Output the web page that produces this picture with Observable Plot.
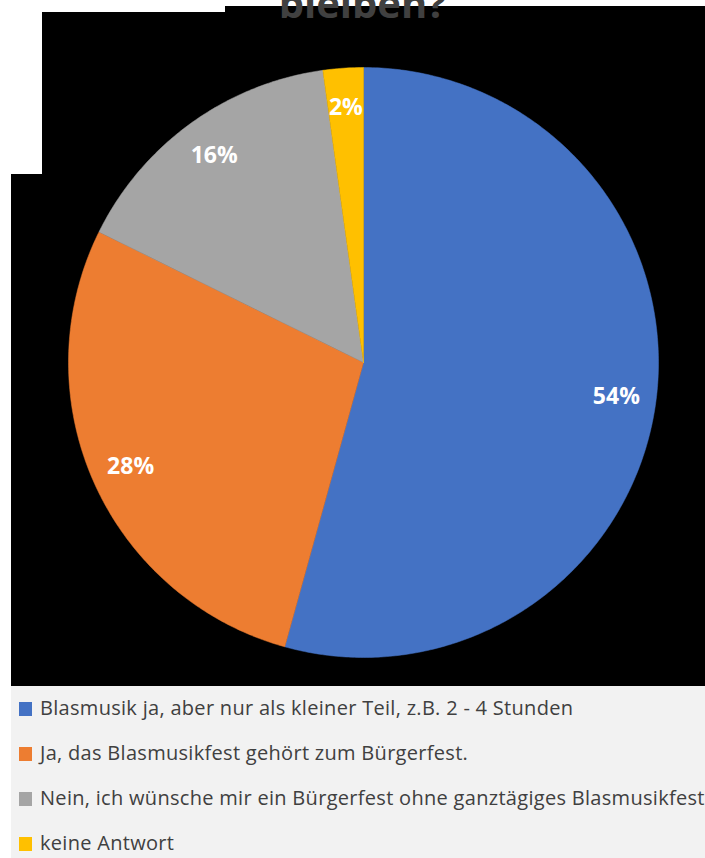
<!DOCTYPE html>
<html>
<head>
<meta charset="utf-8">
<script src="https://cdn.jsdelivr.net/npm/d3@7"></script>
<script src="https://cdn.jsdelivr.net/npm/@observablehq/plot@0.6"></script>
<style>
  html, body { margin: 0; padding: 0; background: #ffffff; }
  #wrap { position: relative; width: 705px; height: 858px; overflow: hidden; background: #ffffff; font-family: "Open Sans", sans-serif; }
  .blk { position: absolute; background: #000000; }
  #title { position: absolute; left: 0; width: 725px; top: -25px; text-align: center; font: bold 40px "Open Sans", sans-serif; color: #404040; z-index: 2; white-space: nowrap; }
  #chart { position: absolute; left: 0; top: 0; z-index: 1; }
  #legend { position: absolute; left: 11px; top: 686px; width: 694px; height: 172px; background: #f2f2f2; overflow: hidden; z-index: 1; }
  .row { position: absolute; left: 8px; white-space: nowrap; font-size: 20px; letter-spacing: 0.3px; color: #404040; line-height: 24px; }
  .sw { display: inline-block; width: 13px; height: 14px; margin-right: 8px; vertical-align: -1px; }
</style>
</head>
<body>
<div id="wrap">
  <div class="blk" style="left:225px; top:6px; width:480px; height:10px;"></div>
  <div class="blk" style="left:42px; top:12px; width:663px; height:170px;"></div>
  <div class="blk" style="left:11px; top:174px; width:694px; height:512px;"></div>
  <div id="title">bleiben?</div>
  <div id="chart"></div>
  <div id="legend"></div>
</div>
<script>
const categories = [
  "Blasmusik ja, aber nur als kleiner Teil, z.B. 2 - 4 Stunden",
  "Ja, das Blasmusikfest gehört zum Bürgerfest.",
  "Nein, ich wünsche mir ein Bürgerfest ohne ganztägiges Blasmusikfest",
  "keine Antwort"
];
const values = [54.3, 28.0, 15.5, 2.2];
const labels = ["54%", "28%", "16%", "2%"];
const colors = ["#4472C4", "#ED7D31", "#A5A5A5", "#FFC000"];

const data = categories.map((c, i) => ({category: c, value: values[i], label: labels[i]}));
const arcs = d3.pie().sort(null).value(d => d.value)(data);

// Sector outlines in unit-circle coordinates (angle clockwise from top)
const pts = [];
arcs.forEach(a => {
  const c = a.data.category;
  pts.push({category: c, x: 0, y: 0});
  const n = Math.max(4, Math.ceil((a.endAngle - a.startAngle) / 0.01));
  for (let k = 0; k <= n; k++) {
    const t = a.startAngle + (a.endAngle - a.startAngle) * k / n;
    pts.push({category: c, x: Math.sin(t), y: Math.cos(t)});
  }
  pts.push({category: c, x: 0, y: 0});
});

const labelR = 0.865;
const labelPts = arcs.map(a => {
  const m = (a.startAngle + a.endAngle) / 2;
  return {label: a.data.label, x: labelR * Math.sin(m), y: labelR * Math.cos(m)};
});

const cx = 363, cy = 362, R = 295;
const chart = Plot.plot({
  width: 705,
  height: 686,
  margin: 0,
  style: {background: "transparent", overflow: "visible"},
  x: {domain: [-1, 1], range: [cx - R, cx + R], axis: null},
  y: {domain: [-1, 1], range: [cy + R, cy - R], axis: null},
  color: {domain: categories, range: colors},
  marks: [
    Plot.line(pts, {x: "x", y: "y", z: "category", fill: "category", stroke: "category", strokeWidth: 0.5, curve: "linear"}),
    Plot.text(labelPts, {x: "x", y: "y", text: "label", fill: "#ffffff", fontSize: 23, fontWeight: "bold", fontFamily: "Open Sans"})
  ]
});
document.getElementById("chart").appendChild(chart);

const legend = document.getElementById("legend");
const rowTops = [10, 55, 100, 145];
categories.forEach((c, i) => {
  const row = document.createElement("div");
  row.className = "row";
  row.style.top = (rowTops[i]) + "px";
  const sw = document.createElement("span");
  sw.className = "sw";
  sw.style.background = colors[i];
  row.appendChild(sw);
  row.appendChild(document.createTextNode(c));
  legend.appendChild(row);
});
</script>
</body>
</html>
